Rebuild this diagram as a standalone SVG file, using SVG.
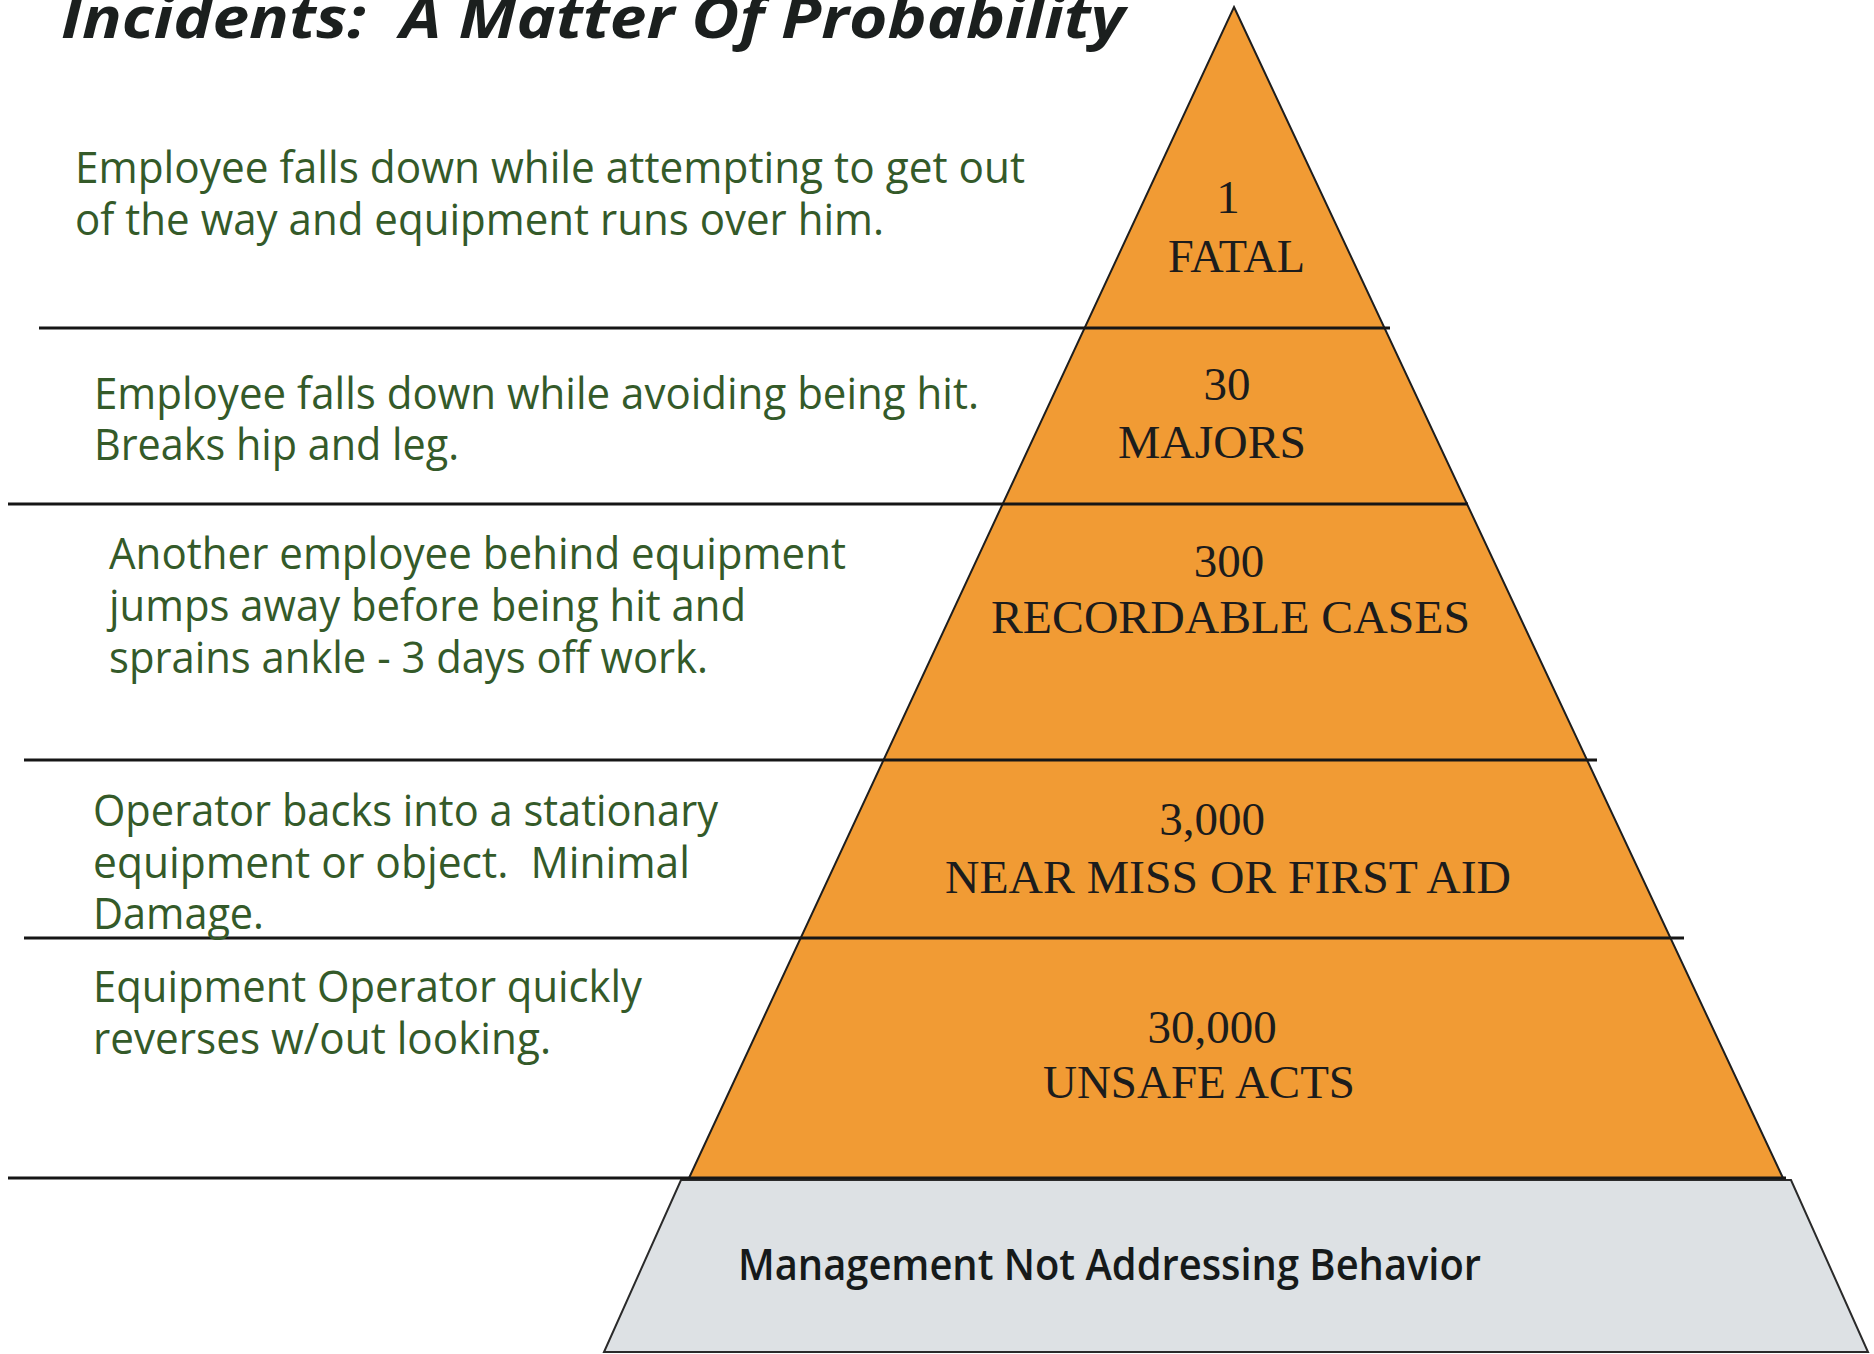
<svg xmlns="http://www.w3.org/2000/svg" width="1874" height="1354" viewBox="0 0 1874 1354" xml:space="preserve">
  <style>
    text { white-space: pre; }
    .desc { font-family: "Open Sans", "Noto Sans", sans-serif; font-size: 44px; fill: #345a29; }
    .lbl { font-family: "Liberation Serif", "Times New Roman", serif; font-size: 47px; fill: #1c1c1c; }
    .num { text-anchor: middle; }
    .rule { stroke: #161616; stroke-width: 3; fill: none; }
  </style>
  <rect width="1874" height="1354" fill="#ffffff"/>

  <text id="title" x="61" y="38" font-family="'Open Sans', 'Noto Sans', sans-serif" font-size="58" font-weight="700" font-style="italic" fill="#1b1f1e" textLength="1064" lengthAdjust="spacingAndGlyphs">Incidents:  A Matter Of Probability</text>

  <g id="base">
    <polygon points="681,1180 1791,1180 1868,1352 604,1352" fill="#dde1e4" stroke="#2a2a2a" stroke-width="2"/>
    <text x="738" y="1280" font-family="'Open Sans', 'Noto Sans', sans-serif" font-size="44" font-weight="600" fill="#161a1a" textLength="743" lengthAdjust="spacingAndGlyphs">Management Not Addressing Behavior</text>
  </g>

  <g id="pyramid">
    <polygon points="1234,7 1783,1178 689,1178" fill="#f19b34" stroke="#1e1e1e" stroke-width="2"/>
  </g>

  <g id="connectors">
    <line class="rule" x1="39" y1="328" x2="1390" y2="328"/>
    <line class="rule" x1="8" y1="504" x2="1468" y2="504"/>
    <line class="rule" x1="24" y1="760" x2="1597" y2="760"/>
    <line class="rule" x1="24" y1="938" x2="1684" y2="938"/>
    <line class="rule" x1="8" y1="1178" x2="1786" y2="1178"/>
  </g>

  <g id="tier-fatal">
    <text class="lbl num" x="1228" y="213">1</text>
    <text class="lbl" x="1168" y="272" textLength="137" lengthAdjust="spacingAndGlyphs">FATAL</text>
    <text class="desc" x="75" y="183" textLength="950" lengthAdjust="spacingAndGlyphs">Employee falls down while attempting to get out</text>
    <text class="desc" x="75" y="235" textLength="809" lengthAdjust="spacingAndGlyphs">of the way and equipment runs over him.</text>
  </g>

  <g id="tier-majors">
    <text class="lbl num" x="1227" y="400">30</text>
    <text class="lbl" x="1118" y="458" textLength="188" lengthAdjust="spacingAndGlyphs">MAJORS</text>
    <text class="desc" x="94" y="409" textLength="885" lengthAdjust="spacingAndGlyphs">Employee falls down while avoiding being hit.</text>
    <text class="desc" x="94" y="460" textLength="365" lengthAdjust="spacingAndGlyphs">Breaks hip and leg.</text>
  </g>

  <g id="tier-recordable">
    <text class="lbl num" x="1229" y="577">300</text>
    <text class="lbl" x="991" y="633" textLength="479" lengthAdjust="spacingAndGlyphs">RECORDABLE CASES</text>
    <text class="desc" x="109" y="569" textLength="737" lengthAdjust="spacingAndGlyphs">Another employee behind equipment</text>
    <text class="desc" x="109" y="621" textLength="637" lengthAdjust="spacingAndGlyphs">jumps away before being hit and</text>
    <text class="desc" x="109" y="673" textLength="599" lengthAdjust="spacingAndGlyphs">sprains ankle - 3 days off work.</text>
  </g>

  <g id="tier-nearmiss">
    <text class="lbl num" x="1212" y="835">3,000</text>
    <text class="lbl" x="945" y="893" textLength="566" lengthAdjust="spacingAndGlyphs">NEAR MISS OR FIRST AID</text>
    <text class="desc" x="93" y="826" textLength="625" lengthAdjust="spacingAndGlyphs">Operator backs into a stationary</text>
    <text class="desc" x="93" y="878" textLength="597" lengthAdjust="spacingAndGlyphs">equipment or object.  Minimal</text>
    <text class="desc" x="93" y="929" textLength="171" lengthAdjust="spacingAndGlyphs">Damage.</text>
  </g>

  <g id="tier-unsafe">
    <text class="lbl num" x="1212" y="1043">30,000</text>
    <text class="lbl" x="1043" y="1098" textLength="312" lengthAdjust="spacingAndGlyphs">UNSAFE ACTS</text>
    <text class="desc" x="93" y="1002" textLength="549" lengthAdjust="spacingAndGlyphs">Equipment Operator quickly</text>
    <text class="desc" x="93" y="1054" textLength="458" lengthAdjust="spacingAndGlyphs">reverses w/out looking.</text>
  </g>
</svg>
